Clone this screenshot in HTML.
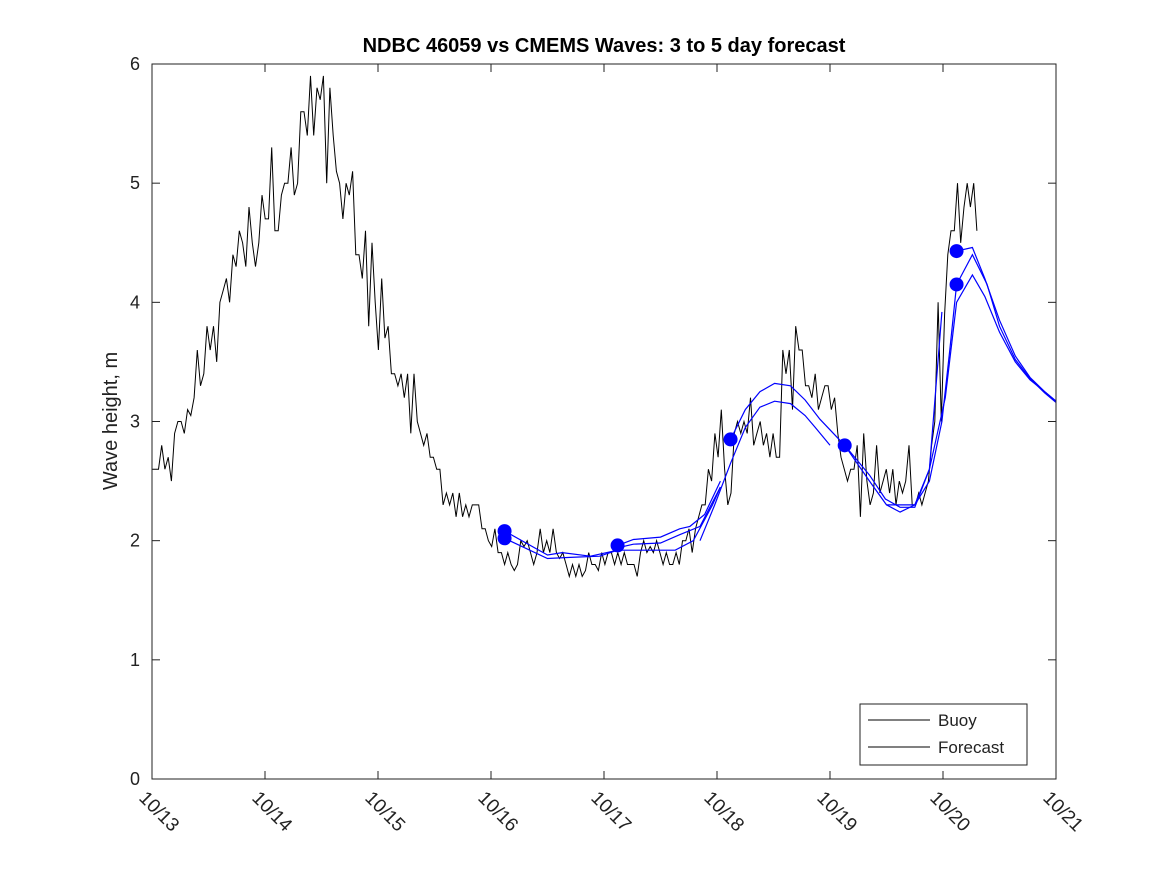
<!DOCTYPE html>
<html><head><meta charset="utf-8"><style>
html,body{margin:0;padding:0;background:#fff;}
svg{display:block;font-family:"Liberation Sans","DejaVu Sans",sans-serif;}
</style></head><body>
<svg id="chart" width="1167" height="875" viewBox="0 0 1167 875">
<defs><clipPath id="pc"><rect x="152" y="64" width="904" height="715"/></clipPath></defs>
<rect width="1167" height="875" fill="#fff"/>
<text x="604" y="52" text-anchor="middle" font-size="20" font-weight="bold" fill="#000">NDBC 46059 vs CMEMS Waves: 3 to 5 day forecast</text>
<text transform="translate(117,421) rotate(-90)" text-anchor="middle" font-size="20" fill="#222">Wave height, m</text>
<g id="axes"></g>
<g id="series" clip-path="url(#pc)"></g>
<rect x="152" y="64" width="904" height="715" fill="none" stroke="#222" stroke-width="1"/>
<g>
<rect x="860" y="704" width="167" height="61" fill="#fff" stroke="#222" stroke-width="1"/>
<line x1="868" y1="720" x2="930" y2="720" stroke="#000" stroke-width="1"/>
<text x="938" y="726" font-size="17" fill="#222">Buoy</text>
<line x1="868" y1="747" x2="930" y2="747" stroke="#000" stroke-width="1"/>
<text x="938" y="753" font-size="17" fill="#222">Forecast</text>
</g>
</svg>
<script>
const xTickLabels=["10/13","10/14","10/15","10/16","10/17","10/18","10/19","10/20","10/21"];
const yTicks=[0,1,2,3,4,5,6];
const buoyStart=0, buoyEnd=7.30;
const buoyValues=[2.6,2.6,2.6,2.8,2.6,2.7,2.5,2.9,3.0,3.0,2.9,3.1,3.05,3.2,3.6,3.3,3.4,3.8,3.6,3.8,3.5,4.0,4.1,4.2,4.0,4.4,4.3,4.6,4.5,4.3,4.8,4.5,4.3,4.5,4.9,4.7,4.7,5.3,4.6,4.6,4.9,5.0,5.0,5.3,4.9,5.0,5.6,5.6,5.4,5.9,5.4,5.8,5.7,5.9,5.0,5.8,5.4,5.1,5.0,4.7,5.0,4.9,5.1,4.4,4.4,4.2,4.6,3.8,4.5,4.0,3.6,4.2,3.7,3.8,3.4,3.4,3.3,3.4,3.2,3.4,2.9,3.4,3.0,2.9,2.8,2.9,2.7,2.7,2.6,2.6,2.3,2.4,2.3,2.4,2.2,2.4,2.2,2.3,2.2,2.3,2.3,2.3,2.1,2.1,2.0,1.95,2.1,1.9,1.9,1.8,1.9,1.8,1.75,1.8,2.0,1.95,2.0,1.9,1.8,1.9,2.1,1.9,2.0,1.9,2.1,1.9,1.85,1.9,1.8,1.7,1.8,1.7,1.8,1.7,1.75,1.9,1.8,1.8,1.75,1.9,1.8,1.9,1.9,1.8,1.9,1.8,1.9,1.8,1.8,1.8,1.7,1.9,2.0,1.9,1.95,1.9,2.0,1.9,1.8,1.9,1.8,1.8,1.9,1.8,2.0,2.0,2.1,1.9,2.1,2.2,2.3,2.3,2.6,2.5,2.9,2.7,3.1,2.6,2.3,2.4,2.9,3.0,2.9,3.0,2.9,3.2,2.8,2.9,3.0,2.8,2.9,2.7,2.9,2.7,2.7,3.6,3.4,3.6,3.1,3.8,3.6,3.6,3.3,3.3,3.2,3.4,3.1,3.2,3.3,3.3,3.1,3.2,2.9,2.7,2.6,2.5,2.6,2.6,2.8,2.2,2.9,2.5,2.3,2.4,2.8,2.4,2.5,2.6,2.4,2.6,2.3,2.5,2.4,2.5,2.8,2.3,2.3,2.4,2.3,2.4,2.5,2.8,3.0,4.0,3.0,3.9,4.4,4.6,4.6,5.0,4.5,4.8,5.0,4.8,5.0,4.6];
const forecastRuns=[
[[3.12,2.08],[3.50,1.88],[3.63,1.90],[3.88,1.87],[4.12,1.92]],
[[3.12,2.02],[3.50,1.85],[3.70,1.86],[3.96,1.87],[4.12,1.92]],
[[4.12,1.96],[4.26,2.01],[4.50,2.03],[4.67,2.10],[4.76,2.12],[4.89,2.22],[5.03,2.5]],
[[4.12,1.94],[4.26,1.97],[4.50,1.98],[4.67,2.05],[4.85,2.12],[5.03,2.45]],
[[4.12,1.92],[4.63,1.92],[4.79,2.0],[4.96,2.3],[5.03,2.45]],
[[5.12,2.85],[5.25,3.1],[5.38,3.25],[5.51,3.32],[5.65,3.3],[5.78,3.18],[5.91,3.02],[6.13,2.8],[6.35,2.55],[6.49,2.35],[6.62,2.28],[6.75,2.28],[6.88,2.6],[6.99,3.92]],
[[4.85,2.0],[4.98,2.3],[5.12,2.65],[5.25,2.95],[5.38,3.12],[5.51,3.17],[5.65,3.15],[5.78,3.05],[5.87,2.95],[6.00,2.8]],
[[6.13,2.8],[6.35,2.5],[6.50,2.3],[6.62,2.24],[6.75,2.3],[6.88,2.6],[7.02,3.2],[7.12,4.0],[7.26,4.23],[7.37,4.05],[7.50,3.75],[7.64,3.5],[7.77,3.35],[7.90,3.25],[8.0,3.17]],
[[6.50,2.3],[6.75,2.3],[6.88,2.5],[6.99,3.0],[7.06,3.6],[7.12,4.15],[7.26,4.4],[7.39,4.15],[7.50,3.8],[7.64,3.52],[7.77,3.36],[7.90,3.24],[8.0,3.16]],
[[7.12,4.43],[7.26,4.46],[7.37,4.2],[7.50,3.85],[7.64,3.55],[7.77,3.37],[7.90,3.25],[8.0,3.17]]
];
const dotTimes=[3.12,3.12,4.12,5.12,6.13,7.12,7.12];
const dotValues=[2.08,2.02,1.96,2.85,2.8,4.43,4.15];

const NS="http://www.w3.org/2000/svg";
const X0=152,X1=1056,Y0=779,Y1=64,XMAX=8,YMAX=6;
function sx(t){return X0+(X1-X0)*t/XMAX;}
function sy(v){return Y0-(Y0-Y1)*v/YMAX;}
function mk(tag,attrs,parent){const e=document.createElementNS(NS,tag);for(const k in attrs)e.setAttribute(k,attrs[k]);parent.appendChild(e);return e;}
const axes=document.getElementById('axes'), series=document.getElementById('series');
yTicks.forEach(v=>{
  const y=sy(v);
  const l1=mk('line',{x1:X0,y1:y,x2:X0+8,y2:y,stroke:'#222'},axes);
  
  
  const l2=mk('line',{x1:X1-8,y1:y,x2:X1,y2:y,stroke:'#222'},axes);
  
  
  const t=mk('text',{x:X0-12,y:y+6,'text-anchor':'end','font-size':18,fill:'#222'},axes);
  t.textContent=String(v);
  
  
});
xTickLabels.forEach((lab,i)=>{
  const x=sx(i);
  const l1=mk('line',{x1:x,y1:Y0,x2:x,y2:Y0-8,stroke:'#222'},axes);
  
  
  const l2=mk('line',{x1:x,y1:Y1,x2:x,y2:Y1+8,stroke:'#222'},axes);
  
  
  const t=mk('text',{transform:`translate(${x-14},${Y0+20}) rotate(45)`,'font-size':19,fill:'#222'},axes);
  t.textContent=lab;
  
  
});
const n=buoyValues.length;
const bp=buoyValues.map((v,i)=>sx(buoyStart+(buoyEnd-buoyStart)*i/(n-1)).toFixed(1)+','+sy(v).toFixed(1)).join(' ');
const buoy=mk('polyline',{points:bp,fill:'none',stroke:'#000','stroke-width':1},series);


forecastRuns.forEach(run=>{
  const p=run.map(d=>sx(d[0]).toFixed(1)+','+sy(d[1]).toFixed(1)).join(' ');
  const l=mk('polyline',{points:p,fill:'none',stroke:'#00f','stroke-width':1.2},series);
  
  
});
dotTimes.forEach((t,i)=>{
  const c=mk('circle',{cx:sx(t),cy:sy(dotValues[i]),r:7,fill:'#00f'},series);
  
  
});
</script>
</body></html>
